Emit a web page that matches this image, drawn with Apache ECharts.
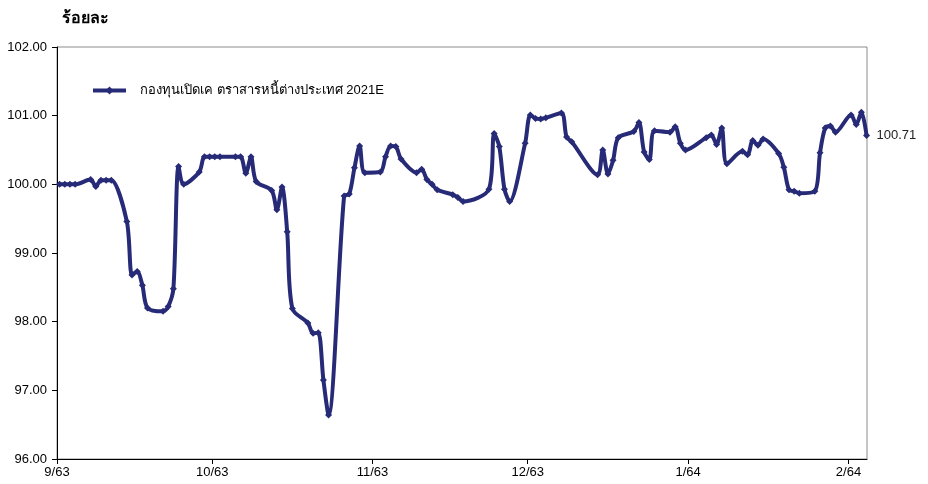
<!DOCTYPE html>
<html>
<head>
<meta charset="utf-8">
<script src="https://cdn.jsdelivr.net/npm/echarts@6/dist/echarts.min.js"></script>
<style>
html,body{margin:0;padding:0;background:#fff;}
#chart{width:928px;height:484px;}
</style>
</head>
<body>
<div id="chart"></div>
<script>
const seriesName = 'กองทุนเปิดเค ตราสารหนี้ต่างประเทศ 2021E';
const yTitle = 'ร้อยละ';

const dates = [
 '2020-09-01','2020-09-02','2020-09-03','2020-09-04','2020-09-07','2020-09-08','2020-09-09','2020-09-10','2020-09-11',
 '2020-09-14','2020-09-15','2020-09-16','2020-09-17','2020-09-18','2020-09-21','2020-09-22','2020-09-23','2020-09-24','2020-09-25',
 '2020-09-28','2020-09-29','2020-09-30',
 '2020-10-01','2020-10-02','2020-10-05','2020-10-06','2020-10-07','2020-10-08','2020-10-09',
 '2020-10-12','2020-10-13','2020-10-14','2020-10-15','2020-10-16','2020-10-19','2020-10-20','2020-10-21','2020-10-22','2020-10-23',
 '2020-10-26','2020-10-27','2020-10-28','2020-10-29','2020-10-30',
 '2020-11-02','2020-11-03','2020-11-04','2020-11-05','2020-11-06','2020-11-09','2020-11-10','2020-11-11','2020-11-12','2020-11-13',
 '2020-11-16','2020-11-17','2020-11-18','2020-11-23','2020-11-24','2020-11-25','2020-11-26','2020-11-27','2020-11-30',
 '2020-12-01','2020-12-02','2020-12-03','2020-12-04','2020-12-07','2020-12-08','2020-12-09','2020-12-14','2020-12-15',
 '2020-12-16','2020-12-17','2020-12-18','2020-12-21','2020-12-22','2020-12-23','2020-12-24','2020-12-25','2020-12-28',
 '2020-12-29','2020-12-30','2020-12-31',
 '2021-01-04','2021-01-05','2021-01-06','2021-01-07','2021-01-08','2021-01-11','2021-01-12','2021-01-13','2021-01-14','2021-01-15',
 '2021-01-18','2021-01-19','2021-01-20','2021-01-21','2021-01-22','2021-01-25','2021-01-26','2021-01-27','2021-01-28','2021-01-29',
 '2021-02-01','2021-02-02','2021-02-03','2021-02-04'
];

const values = [
 100.00,100.00,100.00,100.00,100.07,99.97,100.06,100.06,100.06,
 99.46,98.68,98.73,98.53,98.20,98.15,98.22,98.48,100.26,100.00,
 100.18,100.40,100.40,
 100.40,100.40,100.40,100.40,100.16,100.40,100.04,
 99.91,99.63,99.96,99.31,98.19,97.98,97.83,97.84,97.15,96.64,
 99.83,99.86,100.24,100.56,100.17,
 100.18,100.40,100.56,100.55,100.37,100.17,100.22,100.07,100.00,99.92,
 99.85,99.81,99.75,99.93,100.74,100.55,99.93,99.75,100.60,
 101.01,100.96,100.95,100.97,101.04,100.69,100.62,100.14,100.50,
 100.15,100.35,100.68,100.77,100.90,100.47,100.36,100.78,100.76,
 100.84,100.60,100.50,
 100.68,100.72,100.58,100.82,100.30,100.48,100.43,100.64,100.57,100.66,
 100.45,100.25,99.92,99.90,99.87,99.90,100.46,100.82,100.85,100.76,
 101.01,100.87,101.05,100.71
];

const tickDates = ['2020-09-01','2020-10-01','2020-11-01','2020-12-01','2021-01-01','2021-02-01'];
const tickLabels = ['9/63','10/63','11/63','12/63','1/64','2/64'];
const axisStart = '2020-09-01';
const axisEnd = '2021-02-04';

function ts(s, hour) {
  const p = s.split('-').map(Number);
  return Date.UTC(p[0], p[1] - 1, p[2], hour || 0);
}
const tickTs = tickDates.map(d => ts(d, 0));
const seriesData = dates.map((d, i) => [ts(d, 12), values[i]]);

const FONT = "'Liberation Sans', Arial, 'Noto Sans', sans-serif";
const color = '#272b77';

const chart = echarts.init(document.getElementById('chart'), null, {renderer: 'canvas'});
chart.setOption({
  animation: false,
  backgroundColor: '#ffffff',
  textStyle: {fontFamily: FONT},
  title: {
    text: yTitle, left: 57, top: 6,
    textStyle: {fontSize: 16, fontWeight: 'bold', color: '#000', fontFamily: FONT}
  },
  legend: {
    left: 91, top: 84, padding: 0,
    itemWidth: 33, itemHeight: 10, itemGap: 10,
    lineStyle: {width: 4},
    textStyle: {fontSize: 13, color: '#000', fontFamily: FONT, padding: [0, 0, 0, 9]},
    data: [seriesName]
  },
  grid: {
    left: 57, right: 61, top: 47, bottom: 25,
    show: true, borderColor: '#8c8c8c', borderWidth: 1, backgroundColor: 'transparent'
  },
  xAxis: {
    type: 'value',
    min: ts(axisStart, 0), max: ts(axisEnd, 14),
    axisLine: {show: true, onZero: false, lineStyle: {color: '#000', width: 1}},
    axisTick: {show: true, length: 5, customValues: tickTs, lineStyle: {color: '#000'}},
    axisLabel: {
      show: true, customValues: tickTs, margin: 7,
      fontSize: 13, color: '#000', fontFamily: FONT,
      formatter: function (v) {
        let best = 0, bd = Infinity;
        tickTs.forEach((t, i) => { const d = Math.abs(t - v); if (d < bd) { bd = d; best = i; } });
        return tickLabels[best];
      }
    },
    splitLine: {show: false}
  },
  yAxis: {
    type: 'value', min: 96, max: 102, interval: 1,
    axisLine: {show: true, onZero: false, lineStyle: {color: '#000', width: 1}},
    axisTick: {show: true, length: 5, lineStyle: {color: '#000'}},
    axisLabel: {fontSize: 13, color: '#000', margin: 10, fontFamily: FONT,
      formatter: v => v.toFixed(2)},
    splitLine: {show: false}
  },
  series: [{
    name: seriesName,
    type: 'line',
    data: seriesData,
    smooth: 0.3,
    symbol: 'diamond',
    symbolSize: 7,
    showAllSymbol: true,
    lineStyle: {color: color, width: 4},
    itemStyle: {color: color},
    endLabel: {
      show: true, distance: 10,
      color: '#222', fontSize: 13, fontFamily: FONT,
      formatter: p => Number(p.value[1]).toFixed(2)
    }
  }]
});
</script>
</body>
</html>
